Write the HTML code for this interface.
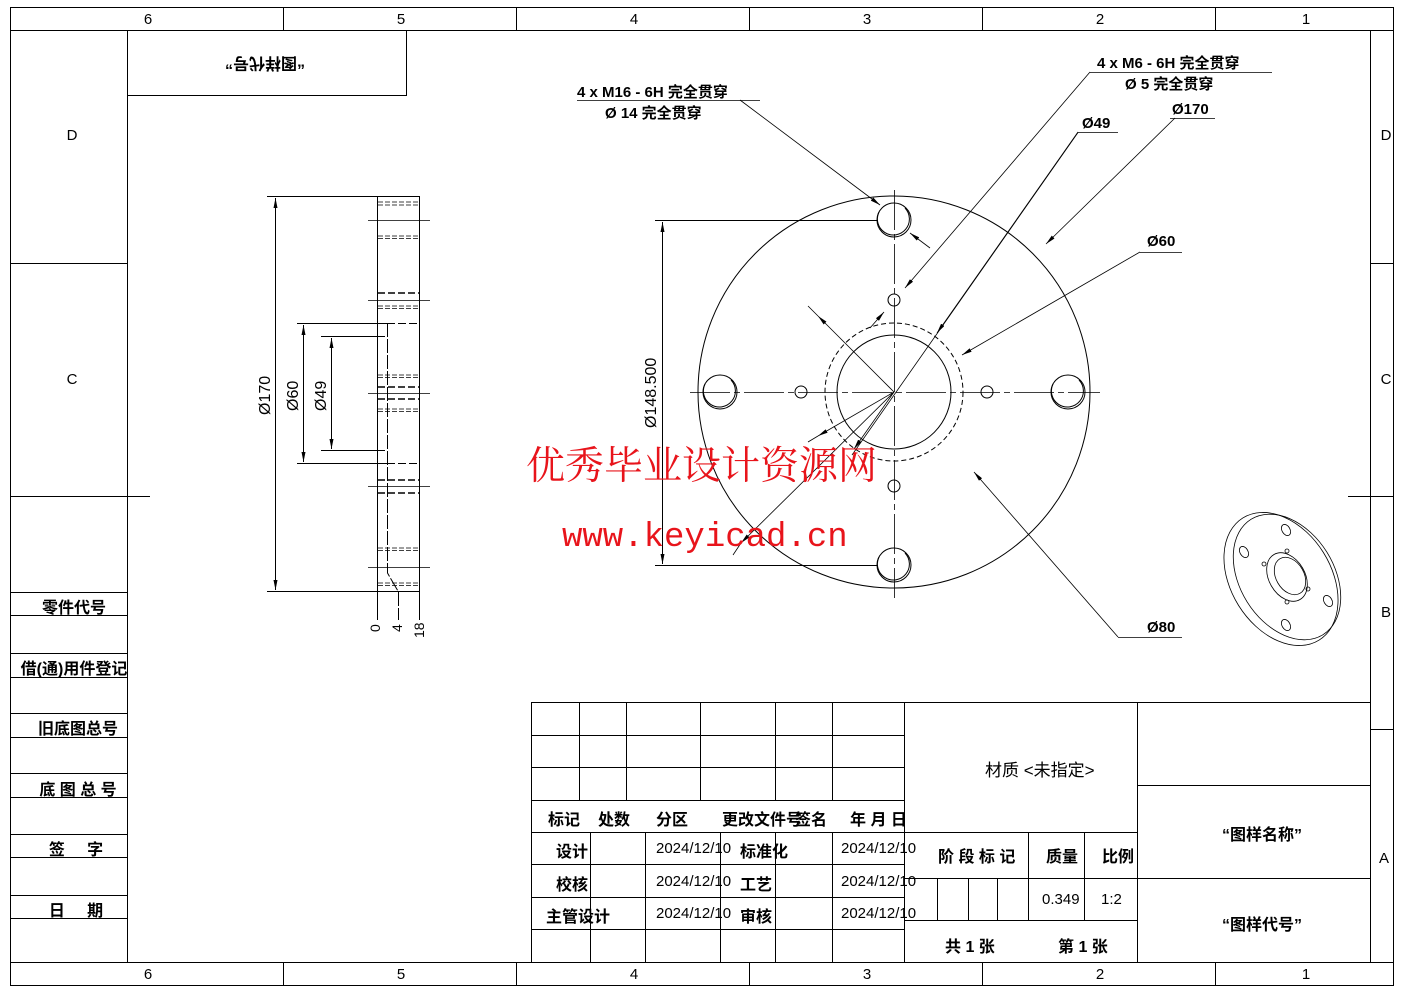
<!DOCTYPE html>
<html><head><meta charset="utf-8"><style>
html,body{margin:0;padding:0;background:#fff;}
svg{display:block;}
text{font-family:"Liberation Sans","Noto Sans CJK SC",sans-serif;fill:#000;}
</style></head><body>
<svg width="1403" height="992" viewBox="0 0 1403 992" xmlns="http://www.w3.org/2000/svg">
<defs>
<marker id="a" viewBox="0 0 10 4" refX="10" refY="2" markerWidth="10" markerHeight="4" markerUnits="userSpaceOnUse" orient="auto"><path d="M0,0 L10,2 L0,4 z" fill="#000"/></marker>
</defs>
<g stroke="#000" stroke-width="1" fill="none">
<rect x="10.5" y="7.5" width="1383" height="978"/>
<rect x="127.5" y="30.5" width="1243" height="932"/>
<line x1="10" y1="30.5" x2="127" y2="30.5"/><line x1="1370" y1="30.5" x2="1393" y2="30.5"/>
<line x1="10" y1="962.5" x2="127" y2="962.5"/><line x1="1370" y1="962.5" x2="1393" y2="962.5"/>
<line x1="283.5" y1="7" x2="283.5" y2="30"/><line x1="516.5" y1="7" x2="516.5" y2="30"/><line x1="749.5" y1="7" x2="749.5" y2="30"/><line x1="982.5" y1="7" x2="982.5" y2="30"/><line x1="1215.5" y1="7" x2="1215.5" y2="30"/>
<line x1="283.5" y1="962" x2="283.5" y2="985"/><line x1="516.5" y1="962" x2="516.5" y2="985"/><line x1="749.5" y1="962" x2="749.5" y2="985"/><line x1="982.5" y1="962" x2="982.5" y2="985"/><line x1="1215.5" y1="962" x2="1215.5" y2="985"/>
<line x1="10" y1="263.5" x2="127" y2="263.5"/><line x1="10" y1="496.5" x2="150" y2="496.5"/>
<line x1="1370" y1="263.5" x2="1393" y2="263.5"/><line x1="1348" y1="496.5" x2="1393" y2="496.5"/><line x1="1370" y1="729.5" x2="1393" y2="729.5"/>
<line x1="10" y1="592.5" x2="127" y2="592.5"/><line x1="10" y1="615.5" x2="127" y2="615.5"/>
<line x1="10" y1="653.5" x2="127" y2="653.5"/><line x1="10" y1="677.5" x2="127" y2="677.5"/>
<line x1="10" y1="713.5" x2="127" y2="713.5"/><line x1="10" y1="737.5" x2="127" y2="737.5"/>
<line x1="10" y1="773.5" x2="127" y2="773.5"/><line x1="10" y1="797.5" x2="127" y2="797.5"/>
<line x1="10" y1="834.5" x2="127" y2="834.5"/><line x1="10" y1="857.5" x2="127" y2="857.5"/>
<line x1="10" y1="895.5" x2="127" y2="895.5"/><line x1="10" y1="918.5" x2="127" y2="918.5"/>
<polyline points="127,95.5 406.5,95.5 406.5,30"/>
<line x1="531.5" y1="702" x2="531.5" y2="962"/>
<line x1="531" y1="702.5" x2="1370" y2="702.5"/>
<line x1="531" y1="735.5" x2="904" y2="735.5"/><line x1="531" y1="767.5" x2="904" y2="767.5"/><line x1="531" y1="800.5" x2="904" y2="800.5"/>
<line x1="531" y1="832.5" x2="1137" y2="832.5"/><line x1="531" y1="864.5" x2="904" y2="864.5"/><line x1="531" y1="897.5" x2="904" y2="897.5"/><line x1="531" y1="929.5" x2="904" y2="929.5"/>
<line x1="579.5" y1="702" x2="579.5" y2="800"/><line x1="626.5" y1="702" x2="626.5" y2="800"/><line x1="700.5" y1="702" x2="700.5" y2="800"/><line x1="775.5" y1="702" x2="775.5" y2="800"/><line x1="832.5" y1="702" x2="832.5" y2="800"/>
<line x1="590.5" y1="832" x2="590.5" y2="962"/><line x1="645.5" y1="832" x2="645.5" y2="962"/><line x1="720.5" y1="832" x2="720.5" y2="962"/><line x1="775.5" y1="832" x2="775.5" y2="962"/><line x1="832.5" y1="832" x2="832.5" y2="962"/>
<line x1="904.5" y1="702" x2="904.5" y2="962"/>
<line x1="1137.5" y1="702" x2="1137.5" y2="962"/>
<line x1="904" y1="878.5" x2="1137" y2="878.5"/><line x1="904" y1="920.5" x2="1137" y2="920.5"/>
<line x1="937.5" y1="878" x2="937.5" y2="920"/><line x1="968.5" y1="878" x2="968.5" y2="920"/><line x1="997.5" y1="878" x2="997.5" y2="920"/>
<line x1="1028.5" y1="832" x2="1028.5" y2="920"/><line x1="1084.5" y1="832" x2="1084.5" y2="920"/>
<line x1="1137" y1="785.5" x2="1370" y2="785.5"/><line x1="1137" y1="878.5" x2="1370" y2="878.5"/>

<rect x="377.5" y="196.5" width="42" height="395"/>
<g stroke-width="0.8">
<line x1="368" y1="220.5" x2="430" y2="220.5"/><line x1="368" y1="300.5" x2="430" y2="300.5"/><line x1="368" y1="393.5" x2="430" y2="393.5"/><line x1="368" y1="486.5" x2="430" y2="486.5"/><line x1="368" y1="567.5" x2="430" y2="567.5"/>
</g>
<g stroke-dasharray="5,2" stroke-width="0.8">
<line x1="378" y1="202" x2="419" y2="202"/><line x1="378" y1="205" x2="419" y2="205"/>
<line x1="378" y1="236" x2="419" y2="236"/><line x1="378" y1="238.5" x2="419" y2="238.5"/>
<line x1="378" y1="306" x2="419" y2="306"/><line x1="378" y1="308.5" x2="419" y2="308.5"/>
<line x1="378" y1="375" x2="419" y2="375"/><line x1="378" y1="377.5" x2="419" y2="377.5"/>
<line x1="378" y1="409" x2="419" y2="409"/><line x1="378" y1="411.5" x2="419" y2="411.5"/>
<line x1="378" y1="548" x2="419" y2="548"/><line x1="378" y1="550.5" x2="419" y2="550.5"/>
<line x1="378" y1="583" x2="419" y2="583"/><line x1="378" y1="585.5" x2="419" y2="585.5"/>
</g>
<g stroke-dasharray="7,3" stroke-width="1.6">
<line x1="378" y1="293" x2="419" y2="293"/><line x1="378" y1="387" x2="419" y2="387"/><line x1="378" y1="399" x2="419" y2="399"/><line x1="378" y1="480" x2="419" y2="480"/><line x1="378" y1="493" x2="419" y2="493"/>
</g>
<polyline points="387.5,323 387.5,573 398.5,592 398.5,620" stroke-dasharray="14,2"/>
<line x1="377.5" y1="591" x2="377.5" y2="620"/><line x1="419.5" y1="591" x2="419.5" y2="620"/>
<line x1="267" y1="196.5" x2="377" y2="196.5"/><line x1="267" y1="591.5" x2="377" y2="591.5"/>
<line x1="275.5" y1="393" x2="275.5" y2="198" marker-end="url(#a)"/><line x1="275.5" y1="393" x2="275.5" y2="590" marker-end="url(#a)"/>
<line x1="297" y1="323.5" x2="387" y2="323.5"/><line x1="387" y1="323.5" x2="419" y2="323.5" stroke-dasharray="8,3"/>
<line x1="297" y1="463.5" x2="387" y2="463.5"/><line x1="387" y1="463.5" x2="419" y2="463.5" stroke-dasharray="8,3"/>
<line x1="303.5" y1="393" x2="303.5" y2="325" marker-end="url(#a)"/><line x1="303.5" y1="393" x2="303.5" y2="462" marker-end="url(#a)"/>
<line x1="321" y1="336.5" x2="385" y2="336.5"/><line x1="321" y1="450.5" x2="385" y2="450.5"/>
<line x1="331.5" y1="393" x2="331.5" y2="338" marker-end="url(#a)"/><line x1="331.5" y1="393" x2="331.5" y2="449" marker-end="url(#a)"/>

<circle cx="894" cy="392" r="196"/>
<circle cx="894" cy="392" r="57"/>
<circle cx="894" cy="392" r="69" stroke-dasharray="5,3"/>
<g>
<circle cx="894" cy="220" r="17"/><path d="M879,212 A16,16 0 1 0 905,208" />
<circle cx="720" cy="392" r="17"/><path d="M705,384 A16,16 0 1 0 731,380"/>
<circle cx="1068" cy="392" r="17"/><path d="M1053,384 A16,16 0 1 0 1079,380"/>
<circle cx="894" cy="565" r="17"/><path d="M879,557 A16,16 0 1 0 905,553"/>
<circle cx="894" cy="300" r="6"/><circle cx="801" cy="392" r="6"/><circle cx="987" cy="392" r="6"/><circle cx="894" cy="486" r="6"/>
</g>
<g stroke-width="0.8" stroke-dasharray="40,4,6,4">
<line x1="690" y1="392.5" x2="1100" y2="392.5"/>
<line x1="894.5" y1="190" x2="894.5" y2="598"/>
</g>
<line x1="655" y1="220.5" x2="878" y2="220.5"/><line x1="655" y1="565.5" x2="878" y2="565.5"/>
<line x1="662.5" y1="392" x2="662.5" y2="222" marker-end="url(#a)"/><line x1="662.5" y1="392" x2="662.5" y2="564" marker-end="url(#a)"/>
<g stroke-width="0.8">
<polyline points="577,100.5 760,100.5"/>
<line x1="740" y1="100" x2="880" y2="205" marker-end="url(#a)"/>
<line x1="930" y1="248" x2="910" y2="233" marker-end="url(#a)"/>
<polyline points="1090,72.5 1272,72.5"/>
<line x1="1090" y1="72" x2="905" y2="288" marker-end="url(#a)"/>
<line x1="870" y1="328" x2="884" y2="312" marker-end="url(#a)"/>
<polyline points="1118,132.5 1078,132.5 852,455"/>
<line x1="1078" y1="132" x2="937" y2="333" marker-end="url(#a)"/>
<line x1="894" y1="392" x2="854" y2="449" marker-end="url(#a)"/>
<polyline points="1215,118.5 1170,118.5"/>
<line x1="1175" y1="118" x2="1046" y2="244" marker-end="url(#a)"/>
<line x1="894" y1="392" x2="741" y2="543" marker-end="url(#a)"/>
<line x1="741" y1="543" x2="733" y2="555"/>
<polyline points="1182,252.5 1140,252.5"/>
<line x1="1140" y1="252" x2="962" y2="355" marker-end="url(#a)"/>
<line x1="894" y1="392" x2="818" y2="436" marker-end="url(#a)"/>
<line x1="818" y1="436" x2="808" y2="442"/>
<polyline points="1182,637.5 1118,637.5"/>
<line x1="1118" y1="637" x2="974" y2="472" marker-end="url(#a)"/>
<line x1="894" y1="392" x2="818" y2="316" marker-end="url(#a)"/>
<line x1="818" y1="316" x2="808" y2="306"/>
</g>
<g stroke-width="0.8">
<ellipse cx="1281" cy="579" rx="72" ry="50" transform="rotate(58 1281 579)"/>
<ellipse cx="1287" cy="577" rx="68" ry="47" transform="rotate(58 1287 577)"/>
<ellipse cx="1287" cy="577" rx="26" ry="18" transform="rotate(60 1287 577)"/>
<ellipse cx="1290" cy="576" rx="20" ry="14" transform="rotate(60 1290 576)"/>
<ellipse cx="1286" cy="530" rx="4" ry="6" transform="rotate(-30 1286 530)"/>
<ellipse cx="1244" cy="552" rx="4" ry="6" transform="rotate(-30 1244 552)"/>
<ellipse cx="1328" cy="601" rx="4" ry="6" transform="rotate(-30 1328 601)"/>
<ellipse cx="1286" cy="625" rx="4" ry="6" transform="rotate(-30 1286 625)"/>
<circle cx="1287" cy="551" r="2"/><circle cx="1264" cy="564" r="2"/><circle cx="1308" cy="589" r="2"/><circle cx="1287" cy="602" r="2"/>
</g>
</g>

<g font-size="15" text-anchor="middle">
<text x="148" y="24">6</text><text x="401" y="24">5</text><text x="634" y="24">4</text><text x="867" y="24">3</text><text x="1100" y="24">2</text><text x="1306" y="24">1</text>
<text x="148" y="979">6</text><text x="401" y="979">5</text><text x="634" y="979">4</text><text x="867" y="979">3</text><text x="1100" y="979">2</text><text x="1306" y="979">1</text>
<text x="72" y="140">D</text><text x="72" y="384">C</text>
<text x="1386" y="140">D</text><text x="1386" y="384">C</text><text x="1386" y="617">B</text><text x="1384" y="863">A</text>
</g>
<text x="265" y="72" font-size="16" font-weight="bold" text-anchor="middle" transform="rotate(180 265 65)">“图样代号”</text>
<g font-size="16" text-anchor="middle" font-weight="bold">
<text x="74" y="613">零件代号</text>
<text x="74" y="674">借(通)用件登记</text>
<text x="78" y="734">旧底图总号</text>
<text x="78" y="795">底 图 总 号</text>
<text x="76" y="855">签 &#160;&#160;&#160;&#160;字</text>
<text x="76" y="916">日 &#160;&#160;&#160;&#160;期</text>
</g>
<g font-size="15" font-weight="bold">
<text x="577" y="97">4 x  M16 - 6H 完全贯穿</text>
<text x="605" y="118">Ø 14 完全贯穿</text>
<text x="1097" y="68">4 x  M6 - 6H 完全贯穿</text>
<text x="1125" y="89">Ø 5 完全贯穿</text>
<text x="1082" y="128">Ø49</text>
<text x="1172" y="114">Ø170</text>
<text x="1147" y="246">Ø60</text>
<text x="1147" y="632">Ø80</text>
</g>
<g font-size="16">
<text transform="translate(270 415) rotate(-90)">Ø170</text>
<text transform="translate(298 411) rotate(-90)">Ø60</text>
<text transform="translate(326 411) rotate(-90)">Ø49</text>
<text transform="translate(656 428) rotate(-90)">Ø148.500</text>
<text transform="translate(380 632) rotate(-90)" font-size="14">0</text>
<text transform="translate(402 632) rotate(-90)" font-size="14">4</text>
<text transform="translate(424 638) rotate(-90)" font-size="14">18</text>
</g>
<g font-size="16" font-weight="bold">
<text x="548" y="825">标记</text><text x="598" y="825">处数</text><text x="656" y="825">分区</text><text x="722" y="825">更改文件号</text><text x="795" y="825">签名</text><text x="850" y="825">年 月 日</text>
<text x="556" y="857">设计</text><text x="556" y="890">校核</text><text x="546" y="922">主管设计</text>
<text x="740" y="857">标准化</text><text x="740" y="890">工艺</text><text x="740" y="922">审核</text>
<text x="938" y="862">阶 段 标 记</text><text x="1046" y="862">质量</text><text x="1102" y="862">比例</text>
<text x="945" y="952">共 1 张</text><text x="1058" y="952">第 1 张</text>
<text x="1222" y="840">“图样名称”</text><text x="1222" y="930">“图样代号”</text>
</g>
<g font-size="15">
<text x="656" y="853">2024/12/10</text><text x="656" y="886">2024/12/10</text><text x="656" y="918">2024/12/10</text>
<text x="841" y="853">2024/12/10</text><text x="841" y="886">2024/12/10</text><text x="841" y="918">2024/12/10</text>
<text x="1042" y="904">0.349</text><text x="1101" y="904">1:2</text>
</g>
<text x="985" y="776" font-size="17">材质 &lt;未指定&gt;</text>
<text x="526" y="479" font-size="39" style="fill:#e8141b;font-family:'Noto Serif CJK SC','Liberation Serif',serif">优秀毕业设计资源网</text>
<text x="562" y="546" font-size="34" style="fill:#e8141b;font-family:'Liberation Mono',monospace">www.keyicad.cn</text>
</svg>
</body></html>
